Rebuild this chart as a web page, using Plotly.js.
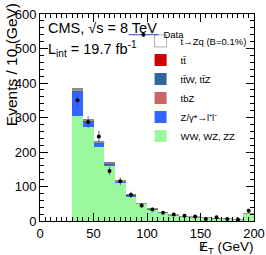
<!DOCTYPE html>
<html><head><meta charset="utf-8">
<script src="https://cdn.plot.ly/plotly-3.0.1.min.js"></script>
<style>html,body{margin:0;padding:0;background:#fff}</style>
</head><body><div id="c" style="width:266px;height:255px"></div>
<script>
const binCenters = [35,45,55,65,75,85,95,105,115,125,135,145,155,165,175,185,195];
const vv   = [305,272,215,158,110,71,48,33,22,15,12,10,8,6,5,4,20];
const zgam = [68,14,8,5,2,2,1,1,0.5,0.5,0.5,0.3,0.3,0.2,0.2,0.2,0.5];
const tbz  = [1,0.5,0.5,0.5,0.3,0.3,0.2,0.2,0.1,0.1,0.1,0.1,0.1,0.1,0.1,0.1,0.2];
const ttv  = [3,3,3,3,2,2,2,2,1.5,1.5,1,1,0.5,0.5,0.5,0.5,1];
const ttbar= [1,2,1,1,0.5,0.5,0.3,0.3,0.2,0.2,0.2,0.2,0.1,0.1,0.1,0.1,0.2];
const tzq  = [1,1,1,1,0.5,0.5,0.5,0.5,0.3,0.3,0.2,0.2,0.2,0.1,0.1,0.1,0.3];
const unc  = [6,4,4,3,3,2,1.5,1,0.8,0.6,0.5,0.4,0.3,0.3,0.3,0.3,0.8];
const dataY   = [350,287,245,145,115,76,45,33,24,19,15,13,6,11,6,4,30];
const dataErr = [19,17,16,12,11,9,7,6,5,4.5,4,3.6,2.5,3.3,2.5,2,5.5];

const F = 'Liberation Sans, Arial, sans-serif';
function bar(y, name, color, show, rank, line){
  return {type:'bar', x:binCenters, y:y, width:10, name:name, showlegend:show, legendrank:rank,
    marker:{color:color, line:{color:line||color, width: line?0.8:0}}, hoverinfo:'skip'};
}
const traces = [
  bar(vv,'WW, WZ, ZZ','#9cf89c',true,7),
  bar(zgam,'Z/γ*→l⁺l⁻','#3366ff',true,6),
  bar(tbz,'tbZ','#cc6666',true,5),
  bar(ttv,'tt̄W, tt̄Z','#336699',true,4),
  bar(ttbar,'tt̄','#cc0000',true,3),
  bar(tzq,'t→Zq (B=0.1%)','#ffffff',true,2,'#999999'),
  bar(unc,'unc','rgba(110,110,110,0.8)',false,9),
  {type:'scatter', mode:'markers', x:binCenters, y:dataY, name:'Data', showlegend:false,
   marker:{color:'#000', size:4},
   error_y:{type:'data', array:dataErr, color:'#3344cc', thickness:0.8, width:0}},
  {type:'scatter', mode:'lines+markers', x:[-50,-40], y:[-50,-50], name:'Data', legend:'legend2',
   line:{color:'#3344cc', width:1}, marker:{color:'#000', size:4}}
];

const layout = {
  width:266, height:255,
  margin:{l:40, r:12, t:14, b:34},
  barmode:'stack', bargap:0,
  paper_bgcolor:'#fff', plot_bgcolor:'#fff',
  font:{family:F, color:'#000', size:13},
  xaxis:{range:[0,200], tickvals:[0,50,100,150,200], ticks:'inside', ticklen:8,
    tickcolor:'#000', showline:true, linecolor:'#000', linewidth:1, mirror:'ticks',
    showgrid:false, zeroline:false, tickfont:{size:13, family:F},
    minor:{dtick:5, ticks:'inside', ticklen:4, tickcolor:'#000', showgrid:false}},
  yaxis:{range:[0,600], tickvals:[0,100,200,300,400,500,600], ticks:'inside', ticklen:8,
    tickcolor:'#000', showline:true, linecolor:'#000', linewidth:1, mirror:'ticks',
    showgrid:false, zeroline:false, tickfont:{size:13, family:F},
    minor:{dtick:20, ticks:'inside', ticklen:4, tickcolor:'#000', showgrid:false}},
  legend:{x:0.47, y:0.94, xanchor:'left', yanchor:'top', traceorder:'normal',
    font:{size:9.5, family:F}, bgcolor:'rgba(0,0,0,0)', tracegroupgap:0},
  legend2:{x:0.39, y:0.97, xanchor:'left', yanchor:'top',
    font:{size:9.5, family:F}, bgcolor:'rgba(0,0,0,0)'},
  annotations:[
    {xref:'paper', yref:'paper', x:0.03, y:0.983, xanchor:'left', yanchor:'top', showarrow:false,
     text:'CMS, √s = 8 TeV', font:{size:14.5, family:F}},
    {xref:'paper', yref:'paper', x:0.03, y:0.89, xanchor:'left', yanchor:'top', showarrow:false,
     text:'L<sub>int</sub> = 19.7 fb<sup>-1</sup>', font:{size:14.5, family:F}},
    {xref:'paper', yref:'paper', x:-0.135, y:1.06, xanchor:'center', yanchor:'top', showarrow:false,
     textangle:-90, text:'Events / 10 (GeV)', font:{size:15.5, family:F}},
    {xref:'paper', yref:'paper', x:0.735, y:-0.075, xanchor:'left', yanchor:'top', showarrow:false,
     text:'E<sub>T</sub> (GeV)', font:{size:13.5, family:F}},
    {xref:'paper', yref:'paper', x:0.76, y:-0.075, xanchor:'center', yanchor:'top', showarrow:false,
     text:'/', font:{size:13.5, family:F}}
  ]
};
Plotly.newPlot('c', traces, layout, {staticPlot:true, displayModeBar:false});
</script></body></html>
